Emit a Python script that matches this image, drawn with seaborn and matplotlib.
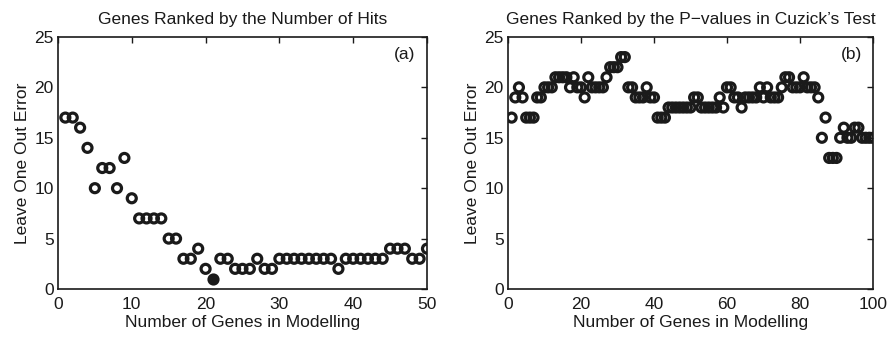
import numpy as np
import pandas as pd
import matplotlib
matplotlib.use("Agg")
import matplotlib.pyplot as plt
import seaborn as sns

# Panel (a): genes ranked by number of hits
genes_a = list(range(1, 51))
error_a = [17, 17, 16, 14, 10, 12, 12, 10, 13, 9,
           7, 7, 7, 7, 5, 5, 3, 3, 4, 2,
           1, 3, 3, 2, 2, 2, 3, 2, 2, 3,
           3, 3, 3, 3, 3, 3, 3, 2, 3, 3,
           3, 3, 3, 3, 4, 4, 4, 3, 3, 4]
best_a = 21

# Panel (b): genes ranked by P-values in Cuzick's test
genes_b = list(range(1, 101))
error_b = [17, 19, 20, 19, 17, 17, 17, 19, 19, 20,
           20, 20, 21, 21, 21, 21, 20, 21, 20, 20,
           19, 21, 20, 20, 20, 20, 21, 22, 22, 22,
           23, 23, 20, 20, 19, 19, 19, 20, 19, 19,
           17, 17, 17, 18, 18, 18, 18, 18, 18, 18,
           19, 19, 18, 18, 18, 18, 18, 19, 18, 20,
           20, 19, 19, 18, 19, 19, 19, 19, 20, 19,
           20, 19, 19, 19, 20, 21, 21, 20, 20, 20,
           21, 20, 20, 20, 19, 15, 17, 13, 13, 13,
           15, 16, 15, 15, 16, 16, 15, 15, 15, 15]

titles = ["Genes Ranked by the Number of Hits",
          "Genes Ranked by the P\u2212values in Cuzick\u2019s Test"]
panel_tags = ["(a)", "(b)"]
xlabel = "Number of Genes in Modelling"
ylabel = "Leave One Out Error"

sns.set_theme(style="white")
plt.rcParams['font.family'] = ['Liberation Sans', 'DejaVu Sans']

ink = "#1a1a1a"
fig = plt.figure(figsize=(8.89, 3.37), dpi=100)
ax_a = fig.add_axes([0.0652, 0.1424, 0.4151, 0.748])
ax_b = fig.add_axes([0.5714, 0.1424, 0.4106, 0.748])

df_a = pd.DataFrame({"genes": genes_a, "error": error_a})
df_b = pd.DataFrame({"genes": genes_b, "error": error_b})

mk = dict(s=42, facecolors="none", edgecolor=ink, linewidth=2.3, marker="o", zorder=3)
sns.scatterplot(data=df_a[df_a.genes != best_a], x="genes", y="error", ax=ax_a, **mk)
sns.scatterplot(data=df_a[df_a.genes == best_a], x="genes", y="error", ax=ax_a,
                s=42, color=ink, edgecolor=ink, linewidth=2.3, marker="o", zorder=4)
sns.scatterplot(data=df_b, x="genes", y="error", ax=ax_b, **mk)

for ax, xmax, xstep, title, tag in [(ax_a, 50, 10, titles[0], panel_tags[0]),
                                     (ax_b, 100, 20, titles[1], panel_tags[1])]:
    ax.set_xlim(0, xmax)
    ax.set_ylim(0, 25)
    ax.set_xticks(np.arange(0, xmax + 1, xstep))
    ax.set_yticks(np.arange(0, 26, 5))
    ax.tick_params(direction="in", length=4, width=1, top=True, right=True,
                   labelsize=12.5, colors=ink)
    ax.tick_params(axis="x", pad=6)
    ax.tick_params(axis="y", pad=3)
    for sp in ax.spines.values():
        sp.set_visible(True)
        sp.set_color(ink)
        sp.set_linewidth(1.2)
    ax.set_xlabel(xlabel, fontsize=12.5, color=ink, labelpad=2)
    ax.set_ylabel(ylabel, fontsize=12.5, color=ink, labelpad=3)
    ax.set_title(title, fontsize=12.5, color=ink, pad=9)
    ax.text(0.94, 0.93, tag, transform=ax.transAxes, ha="center", va="center",
            fontsize=12.5, color=ink)

fig.savefig("out.png", dpi=100)
